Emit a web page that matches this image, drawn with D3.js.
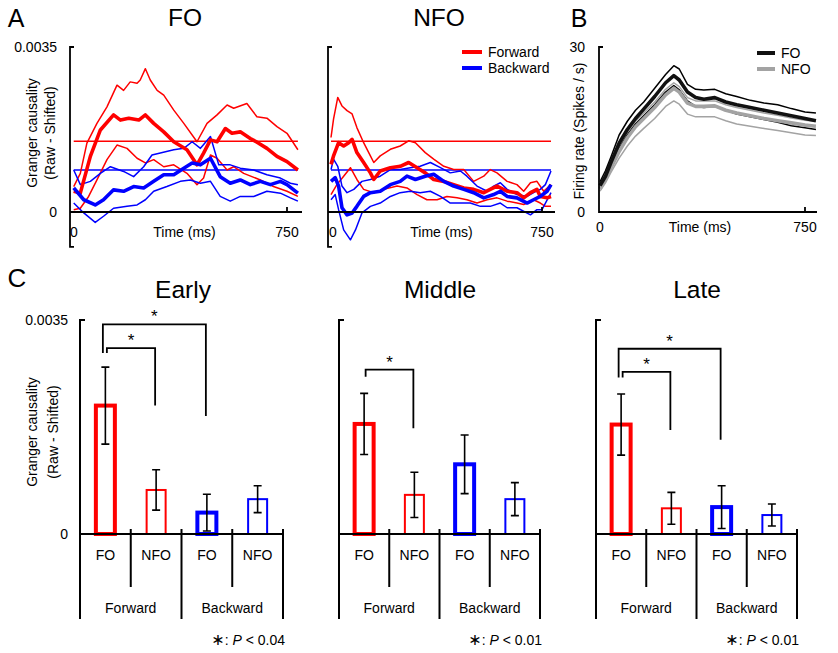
<!DOCTYPE html>
<html>
<head>
<meta charset="utf-8">
<script src="https://cdn.jsdelivr.net/npm/d3@7"></script>
<style>
  body { margin: 0; background: #fff; }
  svg { display: block; font-family: 'Liberation Sans', Arial, sans-serif; }
</style>
</head>
<body>
<svg width="838" height="653"></svg>
<script>
'use strict';

// ---- Panel A: Granger causality (raw - shifted), values in units of 1e-4, [time ms, value]
const foFwdMean = [[6,4.4],[29,4.0],[64,11.8],[99,17.4],[145,20.6],[169,19.5],[198,19.9],[233,19.5],[256,20.6],[285,18.8],[320,17.0],[355,14.9],[401,13.2],[436,10.0],[459,12.5],[483,15.3],[506,14.9],[535,17.7],[558,16.7],[587,17.0],[622,15.6],[651,14.6],[680,13.5],[715,11.8],[750,10.7],[788,8.9]];
const foFwdUp = [[6,5.4],[29,8.2],[52,14.6],[87,18.8],[122,22.3],[157,26.9],[180,25.8],[203,27.6],[227,27.3],[238,28.0],[256,30.4],[273,28.0],[297,25.8],[320,24.8],[355,21.6],[390,18.8],[436,14.9],[471,18.8],[506,20.6],[541,22.7],[564,22.0],[610,23.0],[645,20.2],[680,19.9],[715,18.1],[750,16.7],[788,13.2]];
const foFwdLo = [[6,0.5],[29,0.8],[58,3.3],[87,6.8],[122,11.1],[157,14.2],[192,13.5],[227,11.4],[256,10.4],[285,11.1],[320,9.6],[355,10.0],[401,8.2],[436,5.8],[459,7.2],[483,12.1],[506,11.4],[541,8.9],[564,9.6],[599,8.2],[657,6.8],[703,5.4],[750,4.4],[788,3.3]];
const foBwdMean = [[6,5.1],[41,2.6],[81,1.5],[110,2.6],[145,4.7],[180,4.4],[215,5.4],[250,5.1],[285,6.5],[320,7.9],[355,7.9],[390,9.3],[419,10.4],[448,10.0],[483,11.4],[517,7.5],[552,6.1],[587,6.8],[622,5.8],[657,6.5],[692,5.8],[727,6.5],[750,5.8],[788,4.0]];
const foBwdUp = [[6,8.9],[29,5.8],[64,6.5],[99,8.2],[134,9.6],[180,8.6],[215,7.5],[250,9.6],[279,12.1],[308,12.5],[355,13.2],[390,13.5],[419,14.9],[448,13.5],[483,16.0],[512,10.0],[552,10.0],[587,9.3],[634,8.9],[680,7.9],[727,7.2],[762,6.1],[788,5.8]];
const foBwdLo = [[6,1.9],[41,-0.2],[81,-2.2],[110,-0.9],[145,0.8],[192,1.2],[227,1.5],[256,2.6],[285,4.4],[331,5.4],[378,6.5],[413,6.8],[448,6.1],[483,6.5],[517,3.3],[552,2.3],[587,3.3],[634,3.3],[680,4.4],[727,4.0],[762,3.0],[788,2.3]];

const nfoFwdMean = [[0,10.1],[9,11.9],[27,14.7],[45,14.0],[63,14.7],[75,15.4],[92,12.6],[116,10.5],[140,8.3],[152,6.9],[175,8.7],[211,9.4],[246,9.7],[276,10.5],[306,9.4],[335,8.3],[365,6.9],[401,6.5],[436,5.8],[472,5.1],[507,4.8],[543,4.1],[566,4.8],[590,5.5],[626,4.4],[661,4.1],[685,3.0],[709,4.1],[732,4.8],[744,3.3],[768,3.0],[782,3.3]];
const nfoFwdUp = [[0,15.8],[9,19.7],[24,24.3],[39,22.5],[57,21.5],[75,20.8],[92,17.9],[116,14.7],[140,11.9],[152,10.5],[175,11.9],[211,13.3],[246,14.0],[276,15.1],[300,14.7],[335,12.6],[365,11.2],[401,9.7],[436,9.0],[472,9.0],[507,6.5],[543,7.6],[566,9.0],[590,8.3],[626,6.5],[661,5.8],[685,4.4],[709,6.2],[732,6.5],[756,4.4],[782,5.8]];
const nfoFwdLo = [[0,3.7],[21,5.8],[45,7.6],[69,9.4],[92,6.9],[116,4.8],[152,4.1],[187,4.8],[235,5.5],[270,5.1],[306,3.7],[341,2.6],[377,2.6],[412,3.3],[448,3.0],[483,2.6],[519,1.9],[555,2.6],[590,3.0],[626,2.3],[661,1.9],[685,1.6],[720,2.6],[744,1.9],[762,1.2],[782,1.2]];
const nfoBwdMean = [[0,6.5],[15,7.3],[27,5.5],[39,0.9],[57,-0.6],[75,-0.2],[92,1.2],[116,3.3],[140,4.1],[175,4.4],[211,5.8],[246,6.5],[270,7.6],[300,6.9],[335,7.6],[365,8.0],[401,6.5],[436,5.5],[472,4.8],[507,4.1],[543,3.0],[578,3.7],[602,4.4],[626,3.3],[661,3.0],[697,1.9],[720,2.6],[744,3.3],[768,4.4],[782,5.8]];
const nfoBwdUp = [[0,9.0],[9,11.2],[24,9.7],[39,5.5],[57,4.1],[81,4.8],[110,6.5],[140,6.9],[175,7.6],[211,9.0],[246,9.0],[282,9.4],[317,9.7],[353,10.5],[389,9.4],[424,8.3],[460,8.7],[483,7.6],[519,5.5],[555,4.4],[578,5.5],[602,6.2],[626,4.8],[661,3.7],[697,3.3],[720,4.1],[744,4.8],[762,5.8],[782,8.7]];
const nfoBwdLo = [[0,2.6],[15,3.7],[27,0.5],[45,-3.8],[69,-5.9],[87,-3.8],[110,-0.2],[140,1.2],[175,1.9],[211,3.3],[246,4.1],[282,4.4],[317,4.1],[353,4.4],[389,3.3],[424,1.9],[460,1.9],[495,1.9],[531,1.2],[566,1.2],[602,1.9],[626,0.9],[661,0.9],[709,-0.6],[732,0.5],[750,0.5],[782,4.1]];

const threshFwd = 15.0, threshBwd = 8.9;
const gcTicks = [0, 35], gcTickLabels = ['0', '0.0035'];

// ---- Panel B: firing rate (spikes / s)
const rateTime = [0,20,40,70,100,130,160,200,240,270,290,320,350,380,420,460,500,550,600,650,700,750,790];
const foRate   = [4.8,6.5,9,12.5,15,17,18.7,21,23.5,24.8,24,21.8,20.8,20.5,20.8,20,19.5,19,18.5,18,17.5,17,16.6];
const foRateUp = [5.5,7.5,10,14,16.5,18.5,20,22.5,25,26.6,26,23.2,22.3,22.2,22.3,21.5,21,20.3,19.8,19.5,18.8,18.2,18];
const foRateLo = [4.3,6,8.5,11.5,14,16,17.5,19.5,21.8,23,22.2,20.2,19.2,19,19.2,18.5,17.8,17.3,16.8,16.3,15.7,15.3,15];
const nfoRate   = [4.2,6,8,11,13.5,15.5,17,19,21.3,22.5,21.8,19.8,19.2,19.2,19.3,18.5,18,17.5,17,16.6,16.2,15.8,15.6];
const nfoRateUp = [4.6,6.5,8.7,12,14.5,16.5,18,20,22.3,23.5,22.8,20.8,20.2,20.2,20.2,19.5,19,18.5,18,17.6,17.1,16.7,16.5];
const nfoRateLo = [3.8,5.3,7.2,9.8,12,13.8,15.2,17,19.2,20.2,19.6,17.8,17.3,17.3,17.3,16.6,16,15.6,15.2,14.8,14.4,14,13.9];

// ---- Panel C: epoch means and SEM (units of 1e-4)
const barCats = ['FO', 'NFO', 'FO', 'NFO'];
const barDirs = ['Forward', 'Forward', 'Backward', 'Backward'];
const barGroups = ['Forward', 'Backward'];
const epochs = ['Early', 'Middle', 'Late'];
const earlyMean = [21, 7.2, 3.5, 5.7], earlySem = [6.3, 3.3, 3.0, 2.2];
const middleMean = [18, 6.4, 11.4, 5.7], middleSem = [5.0, 3.7, 4.8, 2.7];
const lateMean = [17.9, 4.2, 4.4, 3.1], lateSem = [5.0, 2.6, 3.5, 1.8];
// [from, to, bracket level, left leg end, right leg end]
const earlySig = [[0, 1, 30.4, 29.6, 21.0], [0, 2, 34.3, 29.6, 19.3]];
const middleSig = [[0, 1, 26.9, 25.7, 17.3]];
const lateSig = [[0, 1, 26.5, 25.6, 17.0], [0, 2, 30.3, 25.6, 15.4]];
const pLabels = ['0.04', '0.01', '0.01'];

const red = '#ff0000', blue = '#0000ff', gray = '#a3a3a3';
const svg = d3.select('svg');

function label(x, y, s, size, anchor) {
  return svg.append('text')
    .attr('x', x).attr('y', y).attr('dy', '0.35em')
    .attr('font-size', size)
    .attr('text-anchor', anchor || 'middle')
    .text(s);
}
function vLabel(x, y, s, size) {
  return svg.append('text')
    .attr('transform', `translate(${x},${y}) rotate(-90)`)
    .attr('dy', '0.35em').attr('font-size', size)
    .attr('text-anchor', 'middle').text(s);
}

// ================= Panel A =================
function grangerPanel(cfg) {
  const x = d3.scaleLinear().domain([0, 750]).range([cfg.x0, cfg.x750]);
  const y = d3.scaleLinear().domain([0, 35]).range([212, 47]);
  const line = d3.line().x(d => x(d[0])).y(d => y(d[1]));
  const g = svg.append('g');

  // threshold lines
  [[threshFwd, red], [threshBwd, blue]].forEach(([v, c]) => {
    g.append('line')
      .attr('x1', x(cfg.series[0][0][0])).attr('x2', x(d3.max(cfg.series[0], d => d[0])))
      .attr('y1', y(v)).attr('y2', y(v))
      .attr('stroke', c).attr('stroke-width', 1.6);
  });

  // thin (SEM) lines first, means on top
  const order = [1, 2, 4, 5, 0, 3];
  const colorOf = i => (i < 3 ? red : blue);
  const widthOf = i => (i % 3 === 0 ? 3.6 : 1.5);
  order.forEach(i => {
    g.append('path').datum(cfg.series[i])
      .attr('d', line).attr('fill', 'none')
      .attr('stroke', colorOf(i)).attr('stroke-width', widthOf(i))
      .attr('stroke-linejoin', 'round');
  });

  // axes
  const ax = cfg.axisX;
  g.append('path')
    .attr('d', `M${ax + 4},${y(gcTicks[1])}H${ax}V${y(-7.4)}H${ax + 4}`)
    .attr('fill', 'none').attr('stroke', '#000').attr('stroke-width', 1.8);
  g.append('line')
    .attr('x1', ax).attr('x2', cfg.xEnd).attr('y1', y(0)).attr('y2', y(0))
    .attr('stroke', '#000').attr('stroke-width', 2);
  g.append('line')
    .attr('x1', x(750)).attr('x2', x(750)).attr('y1', y(0)).attr('y2', y(0) - 5)
    .attr('stroke', '#000').attr('stroke-width', 1.8);

  if (cfg.yLabels) {
    gcTicks.forEach((t, i) => label(57, y(t), gcTickLabels[i], 14, 'end'));
  }
  label(x(0) + 2, 232, '0', 14);
  label(x(750), 232, '750', 14);
  label((x(0) + x(750)) / 2 + 5, 232, 'Time (ms)', 14);
  label(cfg.titleX, 17, cfg.title, 24.5);
}

grangerPanel({
  title: 'FO', titleX: 185, axisX: 70, x0: 72, x750: 287, xEnd: 302, yLabels: true,
  series: [foFwdMean, foFwdUp, foFwdLo, foBwdMean, foBwdUp, foBwdLo]
});
grangerPanel({
  title: 'NFO', titleX: 439, axisX: 328, x0: 331, x750: 542, xEnd: 555, yLabels: false,
  series: [nfoFwdMean, nfoFwdUp, nfoFwdLo, nfoBwdMean, nfoBwdUp, nfoBwdLo]
});
vLabel(32, 133, 'Granger causality', 14);
vLabel(50, 133, '(Raw - Shifted)', 14);
label(16, 18, 'A', 25);

// legend A
[['Forward', red, 52], ['Backward', blue, 68]].forEach(([s, c, yy]) => {
  svg.append('line').attr('x1', 462).attr('x2', 482).attr('y1', yy).attr('y2', yy)
    .attr('stroke', c).attr('stroke-width', 4);
  label(488, yy, s, 14, 'start');
});

// ================= Panel B =================
{
  const x = d3.scaleLinear().domain([0, 750]).range([600, 805]);
  const y = d3.scaleLinear().domain([0, 30]).range([212, 47]);
  const line = d3.line().x((d, i) => x(rateTime[i])).y(d => y(d));
  const g = svg.append('g');
  [[nfoRateUp, gray, 1.5], [nfoRateLo, gray, 1.5], [foRateUp, '#000', 1.5], [foRateLo, '#000', 1.5],
   [nfoRate, gray, 3.6], [foRate, '#111', 3.6]].forEach(([d, c, w]) => {
    g.append('path').datum(d).attr('d', line).attr('fill', 'none')
      .attr('stroke', c).attr('stroke-width', w).attr('stroke-linejoin', 'round');
  });
  g.append('path').attr('d', `M${599 + 4},${y(30)}H599V${y(0)}H817`)
    .attr('fill', 'none').attr('stroke', '#000').attr('stroke-width', 1.8);
  g.append('line').attr('x1', x(750)).attr('x2', x(750)).attr('y1', y(0)).attr('y2', y(0) - 5)
    .attr('stroke', '#000').attr('stroke-width', 1.8);
  label(585, y(30), '30', 14, 'end');
  label(585, y(0), '0', 14, 'end');
  label(x(0), 227, '0', 14);
  label(x(750), 227, '750', 14);
  label(700, 227, 'Time (ms)', 14);
  vLabel(579, 131, 'Firing rate (Spikes / s)', 14);
  label(579, 18, 'B', 25);
  [['FO', '#111', 53], ['NFO', gray, 69]].forEach(([s, c, yy]) => {
    svg.append('line').attr('x1', 757).attr('x2', 775).attr('y1', yy).attr('y2', yy)
      .attr('stroke', c).attr('stroke-width', 4);
    label(781, yy, s, 14, 'start');
  });
}

// ================= Panel C =================
function barPanel(left, right, means, sems, sig, title, titleX, pText, showTicks) {
  const y = d3.scaleLinear().domain([0, 35]).range([534, 320]);
  const x = d3.scaleBand().domain(d3.range(4)).range([left, right]);
  const cx = i => x(i) + x.bandwidth() / 2;
  const g = svg.append('g');
  const bw = 19;
  const dirColor = d3.scaleOrdinal(barGroups, [red, blue]);

  g.selectAll('rect').data(means).join('rect')
    .attr('x', (d, i) => cx(i) - bw / 2)
    .attr('y', d => y(d))
    .attr('width', bw)
    .attr('height', d => y(0) - y(d))
    .attr('fill', 'none')
    .attr('stroke', (d, i) => dirColor(barDirs[i]))
    .attr('stroke-width', (d, i) => (barCats[i] === 'FO' ? 4 : 2));

  // error bars
  means.forEach((m, i) => {
    const c = cx(i), y1 = y(m + sems[i]), y2 = y(m - sems[i]);
    g.append('path')
      .attr('d', `M${c},${y1}V${y2}M${c - 4},${y1}H${c + 4}M${c - 4},${y2}H${c + 4}`)
      .attr('fill', 'none').attr('stroke', '#000').attr('stroke-width', 1.6);
  });

  // axes
  g.append('path').attr('d', `M${left + 5},${y(35)}H${left}V619`)
    .attr('fill', 'none').attr('stroke', '#000').attr('stroke-width', 2);
  g.append('line').attr('x1', left).attr('x2', right).attr('y1', y(0)).attr('y2', y(0))
    .attr('stroke', '#000').attr('stroke-width', 2);
  d3.range(1, 5).forEach(k => {
    const bx = x(k - 1) + x.bandwidth();
    g.append('line').attr('x1', bx).attr('x2', bx).attr('y1', y(0) - 5)
      .attr('y2', k % 2 === 1 ? 587 : 619)
      .attr('stroke', '#000').attr('stroke-width', 2);
  });
  barCats.forEach((s, i) => label(cx(i), 555, s, 14));
  barGroups.forEach((s, k) => label(x(2 * k) + x.bandwidth(), 608, s, 14));

  // significance brackets
  sig.forEach(([a, b, top, lEnd, rEnd], k) => {
    const xa = cx(a) + (k === 0 ? 1.5 : -2.5), xb = cx(b) - 1;
    g.append('path')
      .attr('d', `M${xa},${y(lEnd)}V${y(top)}H${xb}V${y(rEnd)}`)
      .attr('fill', 'none').attr('stroke', '#000').attr('stroke-width', 1.8);
    svg.append('text').attr('x', (xa + xb) / 2).attr('y', y(top) - 2)
      .attr('font-size', 17).attr('text-anchor', 'middle').text('*');
  });

  if (showTicks) {
    label(68, y(35), '0.0035', 14, 'end');
    label(68, y(0), '0', 14, 'end');
  }
  label(titleX, 289, title, 24.5);

  const p = svg.append('text').attr('x', right + 2).attr('y', 645)
    .attr('font-size', 14).attr('text-anchor', 'end');
  p.append('tspan').attr('font-family', 'DejaVu Sans').attr('font-size', 16).text('\u2217');
  p.append('tspan').text(': ');
  p.append('tspan').attr('font-style', 'italic').text('P');
  p.append('tspan').text(' < ' + pText);
}

barPanel(80, 283, earlyMean, earlySem, earlySig, epochs[0], 183, pLabels[0], true);
barPanel(339, 540, middleMean, middleSem, middleSig, epochs[1], 440, pLabels[1], false);
barPanel(596, 797, lateMean, lateSem, lateSig, epochs[2], 697, pLabels[2], false);
vLabel(32, 432, 'Granger causality', 14);
vLabel(53, 432, '(Raw - Shifted)', 14);
label(17, 278, 'C', 26);
</script>
</body>
</html>
